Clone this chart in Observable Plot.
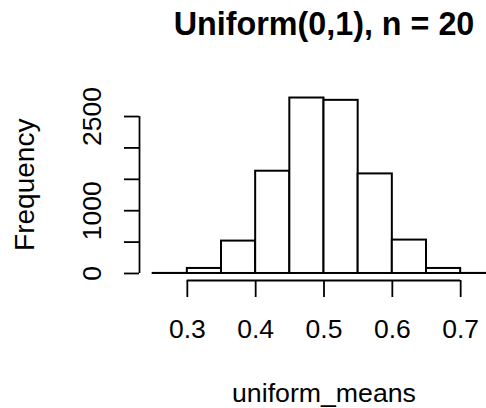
<!DOCTYPE html>
<html>
<head>
<meta charset="utf-8">
<script src="https://cdn.jsdelivr.net/npm/d3@7"></script>
<script src="https://cdn.jsdelivr.net/npm/@observablehq/plot@0.6"></script>
<style>
  html, body { margin: 0; padding: 0; background: white; overflow: hidden; }
</style>
</head>
<body>
<div id="chart"></div>
<script>
// Data
const binStarts = [0.25, 0.30, 0.35, 0.40, 0.45, 0.50, 0.55, 0.60, 0.65, 0.70];
const binEnds   = [0.30, 0.35, 0.40, 0.45, 0.50, 0.55, 0.60, 0.65, 0.70, 0.75];
const counts    = [1, 80, 516, 1629, 2795, 2758, 1586, 532, 80, 1];
const xTicks = [0.3, 0.4, 0.5, 0.6, 0.7];
const yTicks = [0, 500, 1000, 1500, 2000, 2500];
const yLabels = [0, 1000, 2500];
const title = "Uniform(0,1), n = 20";
const xTitle = "uniform_means";
const yTitle = "Frequency";

const bins = binStarts.map((s, i) => ({x1: s, x2: binEnds[i], count: counts[i]}));
const maxCount = d3.max(counts);
const xMin = binStarts[0], xMax = binEnds[binEnds.length - 1];
const xPad = 0.04 * (xMax - xMin);
const xDomain = [xMin - xPad, xMax + xPad];
const yDomain = [-0.04 * maxCount, 1.04 * maxCount];

const font = "'Liberation Sans', Arial, Helvetica, sans-serif";

const chart = Plot.plot({
  width: 486,
  height: 408,
  marginLeft: 139,
  marginRight: -22,
  marginTop: 90.5,
  marginBottom: 128,
  x: {domain: xDomain},
  y: {domain: yDomain},
  style: {fontFamily: font, fontSize: "26px", background: "white", color: "black", overflow: "visible"},
  marks: [
    Plot.rectY(bins, {x1: "x1", x2: "x2", y: "count", fill: "white", stroke: "black", strokeWidth: 2}),
    // x axis line (R style: from first to last tick at bottom of plot region)
    Plot.ruleY([yDomain[0]], {x1: xTicks[0], x2: xTicks[xTicks.length - 1], stroke: "black", strokeWidth: 1.8}),
    Plot.axisX({ticks: xTicks, tickSize: 17, tickPadding: 22, tickFormat: d3.format(".1f"),
      fontSize: 26.5, strokeWidth: 1.8, label: null}),
    // y axis line
    Plot.ruleX([xDomain[0]], {y1: yTicks[0], y2: yTicks[yTicks.length - 1], stroke: "black", strokeWidth: 1.8}),
    Plot.axisY({ticks: yTicks, tickSize: 15, tickFormat: () => "", strokeWidth: 1.8, label: null}),
    Plot.text(yLabels, {frameAnchor: "left", y: d => d, text: d => String(d), rotate: -90,
      dx: -39, textAnchor: "middle", lineAnchor: "bottom", fontSize: 26.5}),
    Plot.text([yTitle], {frameAnchor: "left", text: d => d, rotate: -90, dx: -106, dy: -1,
      textAnchor: "middle", lineAnchor: "bottom", fontSize: 28}),
    Plot.text([xTitle], {frameAnchor: "bottom", text: d => d, dy: 121, lineAnchor: "bottom", fontSize: 26.7}),
    Plot.text([title], {frameAnchor: "top", text: d => d, dy: -56, lineAnchor: "bottom",
      fontSize: 32.3, fontWeight: "bold"})
  ]
});
document.getElementById("chart").append(chart);
</script>
</body>
</html>
